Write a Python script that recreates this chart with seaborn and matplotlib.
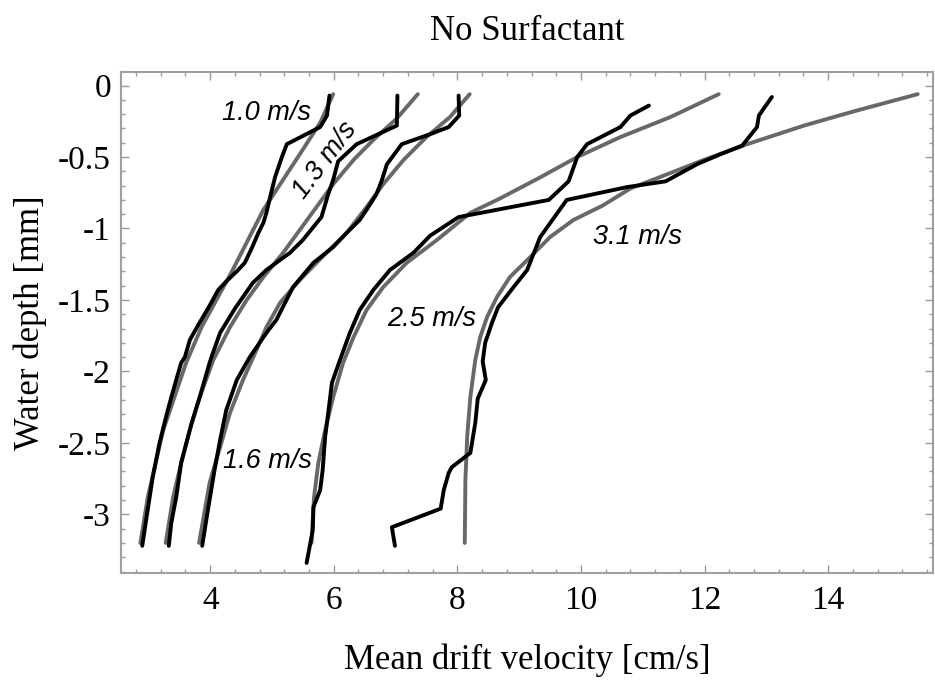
import matplotlib
matplotlib.use("Agg")
import matplotlib.pyplot as plt
from matplotlib.ticker import MultipleLocator
import pandas as pd
import seaborn as sns

# wind speeds of the five runs
speeds = ["1.0 m/s", "1.3 m/s", "1.6 m/s", "2.5 m/s", "3.1 m/s"]

# measured drift profiles (black lines): velocity [cm/s], depth [mm]
obs_vel_10 = [5.93, 5.89, 5.78, 5.24, 5.16, 5.05, 4.97, 4.91, 4.86, 4.78, 4.67, 4.56, 4.43,
              4.26, 4.13, 3.99, 3.80, 3.67, 3.59, 3.53, 3.37, 3.29, 3.18, 3.07, 2.97, 2.90]
obs_dep_10 = [-0.07, -0.21, -0.29, -0.41, -0.50, -0.64, -0.78, -0.89, -0.96, -1.03, -1.14, -1.24, -1.30,
              -1.37, -1.43, -1.54, -1.68, -1.78, -1.90, -1.94, -2.18, -2.31, -2.50, -2.74, -3.02, -3.22]

obs_vel_13 = [7.03, 7.02, 6.72, 6.37, 6.07, 5.99, 5.91, 5.80, 5.50, 5.29, 4.91, 4.69, 4.40,
              4.16, 4.02, 3.99, 3.83, 3.70, 3.53, 3.45, 3.37, 3.33]
obs_dep_13 = [-0.07, -0.28, -0.34, -0.41, -0.53, -0.66, -0.76, -0.92, -1.08, -1.17, -1.29, -1.38, -1.56,
              -1.73, -1.90, -1.94, -2.18, -2.36, -2.64, -2.88, -3.06, -3.22]

obs_vel_16 = [8.02, 8.03, 7.86, 7.56, 7.10, 6.86, 6.78, 6.69, 6.56, 6.42, 6.21, 5.99, 5.67,
              5.34, 5.07, 4.91, 4.64, 4.43, 4.26, 4.16, 4.07, 3.97, 3.87]
obs_dep_16 = [-0.07, -0.21, -0.29, -0.34, -0.41, -0.55, -0.66, -0.76, -0.85, -0.94, -1.03, -1.13, -1.24,
              -1.41, -1.64, -1.73, -1.90, -2.06, -2.27, -2.48, -2.69, -2.95, -3.22]

obs_vel_25 = [11.10, 10.80, 10.64, 10.10, 9.94, 9.80, 9.48, 8.02, 7.56, 7.29, 6.91, 6.64, 6.42,
              6.26, 6.10, 5.97, 5.91, 5.86, 5.82, 5.78, 5.67, 5.66, 5.56]
obs_dep_25 = [-0.14, -0.21, -0.29, -0.41, -0.50, -0.67, -0.80, -0.92, -1.05, -1.17, -1.29, -1.43, -1.57,
              -1.73, -1.92, -2.08, -2.29, -2.46, -2.69, -2.83, -2.95, -3.11, -3.34]

obs_vel_31 = [13.09, 12.96, 12.88, 12.85, 12.61, 12.26, 11.88, 11.37, 10.75, 9.77, 9.34, 9.13, 8.91,
              8.66, 8.56, 8.45, 8.41, 8.46, 8.33, 8.29, 8.21, 7.91, 7.86, 7.78, 7.73, 6.94, 6.99]
obs_dep_31 = [-0.08, -0.16, -0.21, -0.29, -0.42, -0.48, -0.55, -0.67, -0.71, -0.80, -1.06, -1.29, -1.41,
              -1.55, -1.66, -1.80, -1.93, -2.06, -2.19, -2.36, -2.57, -2.67, -2.71, -2.83, -2.96, -3.09, -3.22]

# fitted profiles (grey lines)
fit_vel_10 = [5.99, 5.78, 5.42, 4.86, 4.34, 3.86, 3.61, 3.24, 2.99, 2.87]
fit_dep_10 = [-0.06, -0.26, -0.50, -0.87, -1.31, -1.69, -1.94, -2.41, -2.88, -3.20]

fit_vel_13 = [7.36, 7.02, 6.64, 6.32, 5.99, 5.72, 5.45, 5.18, 4.86, 4.59, 4.32, 4.05, 3.83,
              3.67, 3.53, 3.40, 3.28]
fit_dep_13 = [-0.06, -0.23, -0.38, -0.52, -0.69, -0.85, -1.01, -1.17, -1.34, -1.50, -1.69, -1.92, -2.18,
              -2.41, -2.64, -2.88, -3.20]

fit_vel_16 = [8.20, 7.88, 7.50, 7.13, 6.80, 6.53, 6.21, 5.88, 5.45, 5.13, 4.91, 4.75, 4.53,
              4.32, 4.16, 3.99, 3.82]
fit_dep_16 = [-0.06, -0.22, -0.36, -0.52, -0.69, -0.85, -1.03, -1.17, -1.36, -1.52, -1.69, -1.85, -2.06,
              -2.29, -2.53, -2.78, -3.20]

fit_vel_25 = [12.23, 11.45, 10.64, 9.94, 9.35, 8.69, 8.21, 7.67, 7.18, 6.80, 6.53, 6.32, 6.15,
              5.99, 5.86, 5.75, 5.68, 5.64]
fit_dep_25 = [-0.06, -0.22, -0.36, -0.50, -0.64, -0.79, -0.89, -1.08, -1.24, -1.41, -1.57, -1.76, -1.94,
              -2.18, -2.41, -2.64, -2.88, -3.20]

fit_vel_31 = [15.45, 14.42, 13.61, 12.69, 11.99, 11.34, 10.80, 10.35, 9.88, 9.50, 9.18, 8.85, 8.64,
              8.48, 8.37, 8.29, 8.21, 8.16, 8.13, 8.12]
fit_dep_31 = [-0.06, -0.18, -0.28, -0.41, -0.52, -0.63, -0.72, -0.84, -0.94, -1.06, -1.20, -1.34, -1.48,
              -1.62, -1.76, -1.92, -2.18, -2.45, -2.76, -3.20]

obs = [(obs_vel_10, obs_dep_10), (obs_vel_13, obs_dep_13), (obs_vel_16, obs_dep_16),
       (obs_vel_25, obs_dep_25), (obs_vel_31, obs_dep_31)]
fits = [(fit_vel_10, fit_dep_10), (fit_vel_13, fit_dep_13), (fit_vel_16, fit_dep_16),
        (fit_vel_25, fit_dep_25), (fit_vel_31, fit_dep_31)]

rows = []
for speed, (fv, fd), (ov, od) in zip(speeds, fits, obs):
    for v, d in zip(fv, fd):
        rows.append({"speed": speed, "kind": "fit", "velocity": v, "depth": d})
    for v, d in zip(ov, od):
        rows.append({"speed": speed, "kind": "measured", "velocity": v, "depth": d})
df = pd.DataFrame(rows)

# label placement (data coords) and rotation
label_pos = {"1.0 m/s": (4.91, -0.195, 0), "1.3 m/s": (5.86, -0.52, 53),
             "1.6 m/s": (4.93, -2.63, 0), "2.5 m/s": (7.59, -1.63, 0),
             "3.1 m/s": (10.91, -1.06, 0)}

sns.set_style("ticks")
plt.rcParams["font.family"] = ["Liberation Serif", "DejaVu Serif"]
plt.rcParams["axes.unicode_minus"] = False
plt.rcParams["text.color"] = "black"
plt.rcParams["axes.labelcolor"] = "black"

fig = plt.figure(figsize=(9.35, 6.87), dpi=100)
ax = fig.add_axes([0.129, 0.166, 0.869, 0.729])

sns.lineplot(data=df, x="velocity", y="depth", hue="kind", units="speed",
             estimator=None, sort=False, palette={"fit": "#686868", "measured": "black"},
             hue_order=["fit", "measured"], linewidth=2.8, legend=False, ax=ax)

for text, (x, y, rot) in label_pos.items():
    ax.text(x, y, text, ha="center", va="center", rotation=rot, fontsize=19.5,
            family="Liberation Sans", style="italic", color="black")

ax.set_xlim(2.55, 15.7)
ax.set_ylim(-3.41, 0.094)
ax.xaxis.set_major_locator(MultipleLocator(2))
ax.xaxis.set_minor_locator(MultipleLocator(0.4))
ax.yaxis.set_minor_locator(MultipleLocator(0.1))
ax.set_yticks([0, -0.5, -1, -1.5, -2, -2.5, -3])
ax.set_yticklabels(["0", "-0.5", "-1", "-1.5", "-2", "-2.5", "-3"])

ax.tick_params(which="both", direction="in", top=True, right=True, colors="#999999",
               labelcolor="black", labelsize=24)
ax.tick_params(axis="x", which="both", pad=9)
ax.tick_params(axis="y", which="both", pad=7)
ax.tick_params(which="major", length=6, width=1)
ax.tick_params(which="minor", length=3, width=1)
for sp in ax.spines.values():
    sp.set_color("#a0a0a0")
    sp.set_linewidth(1.5)

ax.set_xlabel("Mean drift velocity [cm/s]", fontsize=25, labelpad=20)
ax.set_ylabel("Water depth [mm]", fontsize=25, labelpad=8)
ax.set_title("No Surfactant", fontsize=25, pad=23)

fig.savefig("out.png", dpi=100)
